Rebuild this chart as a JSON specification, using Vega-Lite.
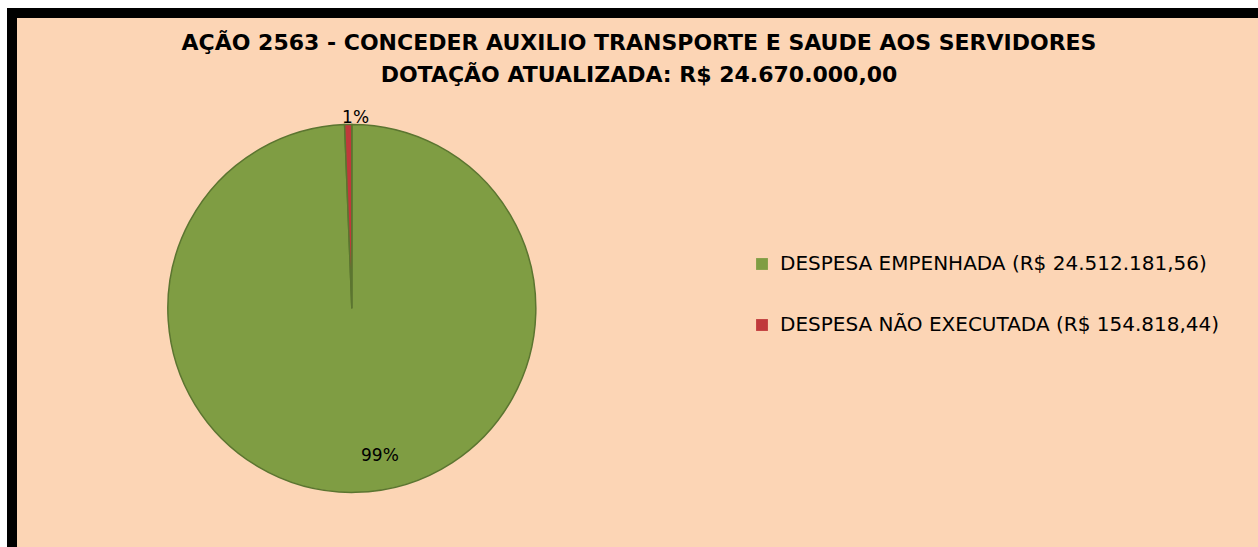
{
  "$schema": "https://vega.github.io/schema/vega-lite/v6.json",
  "width": 1258,
  "height": 547,
  "autosize": {"type": "fit", "contains": "padding"},
  "padding": {"left": 12, "top": 13, "right": -8, "bottom": -8},
  "background": "white",
  "view": {"fill": "#FCD5B5", "stroke": "#000000", "strokeWidth": 10},
  "config": {
    "view": {"fill": "#FCD5B5", "stroke": "#000000", "strokeWidth": 10},
    "legend": {
      "symbolType": "square",
      "symbolSize": 140,
      "symbolStrokeWidth": 0,
      "labelFont": "DejaVu Sans",
      "labelFontSize": 20,
      "labelColor": "#000000",
      "labelLimit": 700,
      "rowPadding": 41,
      "labelOffset": 8
    }
  },
  "title": {
    "text": ["AÇÃO 2563 - CONCEDER AUXILIO TRANSPORTE E SAUDE AOS SERVIDORES", "DOTAÇÃO ATUALIZADA: R$ 24.670.000,00"],
    "font": "DejaVu Sans",
    "fontSize": 22,
    "fontWeight": "bold",
    "color": "#000000",
    "lineHeight": 32,
    "anchor": "middle",
    "baseline": "top",
    "offset": -74
  },
  "data": {
    "values": [
      {"categoria": "DESPESA EMPENHADA  (R$ 24.512.181,56)", "valor": 24512181.56, "rotulo": "99%"},
      {"categoria": "DESPESA NÃO EXECUTADA (R$ 154.818,44)", "valor": 154818.44, "rotulo": "1%"}
    ]
  },
  "layer": [
    {
      "mark": {
        "type": "arc",
        "outerRadius": 184,
        "x": {"expr": "width * 0.271"},
        "y": {"expr": "height * 0.545"},
        "stroke": "#5B7530",
        "strokeWidth": 1.5
      },
      "encoding": {
        "theta": {"field": "valor", "type": "quantitative", "stack": true},
        "color": {
          "field": "categoria",
          "type": "nominal",
          "scale": {
            "domain": ["DESPESA EMPENHADA  (R$ 24.512.181,56)", "DESPESA NÃO EXECUTADA (R$ 154.818,44)"],
            "range": ["#7F9D43", "#C0393B"]
          },
          "legend": {"title": null, "orient": "none", "legendX": 740, "legendY": 241}
        }
      }
    },
    {
      "mark": {
        "type": "text",
        "radius": 190,
        "x": {"expr": "width * 0.271"},
        "y": {"expr": "height * 0.545"},
        "font": "DejaVu Sans",
        "fontSize": 17,
        "color": "#000000",
        "baseline": "middle",
        "align": "center"
      },
      "encoding": {
        "theta": {"field": "valor", "type": "quantitative", "stack": true},
        "text": {"condition": {"test": "datum.rotulo == '1%'", "field": "rotulo"}, "value": ""}
      }
    },
    {
      "mark": {
        "type": "text",
        "radius": 148,
        "dx": 31,
        "x": {"expr": "width * 0.271"},
        "y": {"expr": "height * 0.545"},
        "font": "DejaVu Sans",
        "fontSize": 17,
        "color": "#000000",
        "baseline": "middle",
        "align": "center"
      },
      "encoding": {
        "theta": {"field": "valor", "type": "quantitative", "stack": true},
        "text": {"condition": {"test": "datum.rotulo == '99%'", "field": "rotulo"}, "value": ""}
      }
    }
  ]
}
